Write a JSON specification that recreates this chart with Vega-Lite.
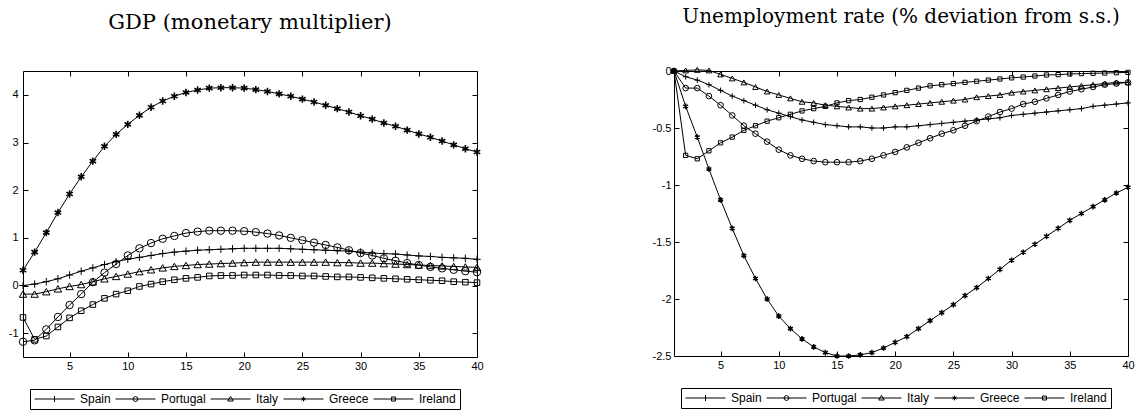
{
 "$schema": "https://vega.github.io/schema/vega-lite/v6.json",
 "padding": {"left": 7, "top": 6, "right": 2, "bottom": 0},
 "bounds": "flush",
 "spacing": 197,
 "config": {
  "view": {"stroke": "black", "strokeWidth": 1},
  "axis": {"grid": false, "domain": false, "tickColor": "black", "tickSize": -5, "tickWidth": 1, "labelFont": "Liberation Sans", "labelFontSize": 11, "labelColor": "black", "labelFlush": false, "labelOverlap": false},
  "title": {"font": "DejaVu Serif", "fontSize": 20, "fontWeight": "normal", "color": "black", "anchor": "middle", "offset": 38},
  "legend": {"orient": "none", "direction": "horizontal", "columns": 5, "strokeColor": "black", "fillColor": "white", "padding": 4, "symbolSize": 1600, "clipHeight": 12, "labelOffset": 5, "columnPadding": 4, "labelFont": "Liberation Sans", "labelFontSize": 12, "labelColor": "black", "symbolStrokeColor": "black", "symbolFillColor": "transparent", "symbolStrokeWidth": 1, "symbolOpacity": 1}
 },
 "resolve": {"scale": {"shape": "independent"}, "legend": {"shape": "independent"}},
 "datasets": {
  "gdp": [
{"t":1,"c":"Spain","v":0.00},{"t":2,"c":"Spain","v":0.03},{"t":3,"c":"Spain","v":0.08},{"t":4,"c":"Spain","v":0.14},{"t":5,"c":"Spain","v":0.22},{"t":6,"c":"Spain","v":0.30},{"t":7,"c":"Spain","v":0.37},{"t":8,"c":"Spain","v":0.44},{"t":9,"c":"Spain","v":0.50},{"t":10,"c":"Spain","v":0.55},{"t":11,"c":"Spain","v":0.59},{"t":12,"c":"Spain","v":0.63},{"t":13,"c":"Spain","v":0.67},{"t":14,"c":"Spain","v":0.70},{"t":15,"c":"Spain","v":0.72},{"t":16,"c":"Spain","v":0.74},{"t":17,"c":"Spain","v":0.75},{"t":18,"c":"Spain","v":0.76},{"t":19,"c":"Spain","v":0.77},{"t":20,"c":"Spain","v":0.78},{"t":21,"c":"Spain","v":0.78},{"t":22,"c":"Spain","v":0.78},{"t":23,"c":"Spain","v":0.78},{"t":24,"c":"Spain","v":0.77},{"t":25,"c":"Spain","v":0.76},{"t":26,"c":"Spain","v":0.75},{"t":27,"c":"Spain","v":0.74},{"t":28,"c":"Spain","v":0.73},{"t":29,"c":"Spain","v":0.72},{"t":30,"c":"Spain","v":0.70},{"t":31,"c":"Spain","v":0.68},{"t":32,"c":"Spain","v":0.67},{"t":33,"c":"Spain","v":0.66},{"t":34,"c":"Spain","v":0.64},{"t":35,"c":"Spain","v":0.62},{"t":36,"c":"Spain","v":0.61},{"t":37,"c":"Spain","v":0.59},{"t":38,"c":"Spain","v":0.58},{"t":39,"c":"Spain","v":0.57},{"t":40,"c":"Spain","v":0.55},
{"t":1,"c":"Portugal","v":-1.18},{"t":2,"c":"Portugal","v":-1.15},{"t":3,"c":"Portugal","v":-0.92},{"t":4,"c":"Portugal","v":-0.66},{"t":5,"c":"Portugal","v":-0.41},{"t":6,"c":"Portugal","v":-0.18},{"t":7,"c":"Portugal","v":0.07},{"t":8,"c":"Portugal","v":0.27},{"t":9,"c":"Portugal","v":0.45},{"t":10,"c":"Portugal","v":0.63},{"t":11,"c":"Portugal","v":0.78},{"t":12,"c":"Portugal","v":0.89},{"t":13,"c":"Portugal","v":0.98},{"t":14,"c":"Portugal","v":1.04},{"t":15,"c":"Portugal","v":1.10},{"t":16,"c":"Portugal","v":1.13},{"t":17,"c":"Portugal","v":1.15},{"t":18,"c":"Portugal","v":1.15},{"t":19,"c":"Portugal","v":1.15},{"t":20,"c":"Portugal","v":1.14},{"t":21,"c":"Portugal","v":1.12},{"t":22,"c":"Portugal","v":1.09},{"t":23,"c":"Portugal","v":1.05},{"t":24,"c":"Portugal","v":1.00},{"t":25,"c":"Portugal","v":0.95},{"t":26,"c":"Portugal","v":0.90},{"t":27,"c":"Portugal","v":0.85},{"t":28,"c":"Portugal","v":0.80},{"t":29,"c":"Portugal","v":0.74},{"t":30,"c":"Portugal","v":0.68},{"t":31,"c":"Portugal","v":0.63},{"t":32,"c":"Portugal","v":0.57},{"t":33,"c":"Portugal","v":0.52},{"t":34,"c":"Portugal","v":0.47},{"t":35,"c":"Portugal","v":0.43},{"t":36,"c":"Portugal","v":0.39},{"t":37,"c":"Portugal","v":0.36},{"t":38,"c":"Portugal","v":0.33},{"t":39,"c":"Portugal","v":0.30},{"t":40,"c":"Portugal","v":0.28},
{"t":1,"c":"Italy","v":-0.18},{"t":2,"c":"Italy","v":-0.18},{"t":3,"c":"Italy","v":-0.13},{"t":4,"c":"Italy","v":-0.07},{"t":5,"c":"Italy","v":-0.02},{"t":6,"c":"Italy","v":0.02},{"t":7,"c":"Italy","v":0.08},{"t":8,"c":"Italy","v":0.14},{"t":9,"c":"Italy","v":0.19},{"t":10,"c":"Italy","v":0.24},{"t":11,"c":"Italy","v":0.29},{"t":12,"c":"Italy","v":0.33},{"t":13,"c":"Italy","v":0.37},{"t":14,"c":"Italy","v":0.40},{"t":15,"c":"Italy","v":0.42},{"t":16,"c":"Italy","v":0.44},{"t":17,"c":"Italy","v":0.45},{"t":18,"c":"Italy","v":0.46},{"t":19,"c":"Italy","v":0.47},{"t":20,"c":"Italy","v":0.48},{"t":21,"c":"Italy","v":0.49},{"t":22,"c":"Italy","v":0.49},{"t":23,"c":"Italy","v":0.49},{"t":24,"c":"Italy","v":0.49},{"t":25,"c":"Italy","v":0.49},{"t":26,"c":"Italy","v":0.49},{"t":27,"c":"Italy","v":0.49},{"t":28,"c":"Italy","v":0.48},{"t":29,"c":"Italy","v":0.48},{"t":30,"c":"Italy","v":0.47},{"t":31,"c":"Italy","v":0.47},{"t":32,"c":"Italy","v":0.46},{"t":33,"c":"Italy","v":0.45},{"t":34,"c":"Italy","v":0.44},{"t":35,"c":"Italy","v":0.43},{"t":36,"c":"Italy","v":0.42},{"t":37,"c":"Italy","v":0.41},{"t":38,"c":"Italy","v":0.40},{"t":39,"c":"Italy","v":0.39},{"t":40,"c":"Italy","v":0.38},
{"t":1,"c":"Greece","v":0.32},{"t":2,"c":"Greece","v":0.70},{"t":3,"c":"Greece","v":1.11},{"t":4,"c":"Greece","v":1.53},{"t":5,"c":"Greece","v":1.92},{"t":6,"c":"Greece","v":2.28},{"t":7,"c":"Greece","v":2.61},{"t":8,"c":"Greece","v":2.92},{"t":9,"c":"Greece","v":3.17},{"t":10,"c":"Greece","v":3.38},{"t":11,"c":"Greece","v":3.57},{"t":12,"c":"Greece","v":3.74},{"t":13,"c":"Greece","v":3.87},{"t":14,"c":"Greece","v":3.97},{"t":15,"c":"Greece","v":4.05},{"t":16,"c":"Greece","v":4.10},{"t":17,"c":"Greece","v":4.14},{"t":18,"c":"Greece","v":4.15},{"t":19,"c":"Greece","v":4.15},{"t":20,"c":"Greece","v":4.14},{"t":21,"c":"Greece","v":4.11},{"t":22,"c":"Greece","v":4.07},{"t":23,"c":"Greece","v":4.02},{"t":24,"c":"Greece","v":3.97},{"t":25,"c":"Greece","v":3.91},{"t":26,"c":"Greece","v":3.85},{"t":27,"c":"Greece","v":3.78},{"t":28,"c":"Greece","v":3.71},{"t":29,"c":"Greece","v":3.64},{"t":30,"c":"Greece","v":3.56},{"t":31,"c":"Greece","v":3.49},{"t":32,"c":"Greece","v":3.41},{"t":33,"c":"Greece","v":3.34},{"t":34,"c":"Greece","v":3.26},{"t":35,"c":"Greece","v":3.18},{"t":36,"c":"Greece","v":3.11},{"t":37,"c":"Greece","v":3.03},{"t":38,"c":"Greece","v":2.95},{"t":39,"c":"Greece","v":2.87},{"t":40,"c":"Greece","v":2.80},
{"t":1,"c":"Ireland","v":-0.67},{"t":2,"c":"Ireland","v":-1.13},{"t":3,"c":"Ireland","v":-1.06},{"t":4,"c":"Ireland","v":-0.87},{"t":5,"c":"Ireland","v":-0.68},{"t":6,"c":"Ireland","v":-0.53},{"t":7,"c":"Ireland","v":-0.40},{"t":8,"c":"Ireland","v":-0.27},{"t":9,"c":"Ireland","v":-0.18},{"t":10,"c":"Ireland","v":-0.11},{"t":11,"c":"Ireland","v":-0.02},{"t":12,"c":"Ireland","v":0.03},{"t":13,"c":"Ireland","v":0.08},{"t":14,"c":"Ireland","v":0.12},{"t":15,"c":"Ireland","v":0.15},{"t":16,"c":"Ireland","v":0.17},{"t":17,"c":"Ireland","v":0.20},{"t":18,"c":"Ireland","v":0.21},{"t":19,"c":"Ireland","v":0.21},{"t":20,"c":"Ireland","v":0.22},{"t":21,"c":"Ireland","v":0.22},{"t":22,"c":"Ireland","v":0.22},{"t":23,"c":"Ireland","v":0.21},{"t":24,"c":"Ireland","v":0.21},{"t":25,"c":"Ireland","v":0.20},{"t":26,"c":"Ireland","v":0.20},{"t":27,"c":"Ireland","v":0.19},{"t":28,"c":"Ireland","v":0.18},{"t":29,"c":"Ireland","v":0.18},{"t":30,"c":"Ireland","v":0.17},{"t":31,"c":"Ireland","v":0.16},{"t":32,"c":"Ireland","v":0.15},{"t":33,"c":"Ireland","v":0.14},{"t":34,"c":"Ireland","v":0.13},{"t":35,"c":"Ireland","v":0.12},{"t":36,"c":"Ireland","v":0.11},{"t":37,"c":"Ireland","v":0.10},{"t":38,"c":"Ireland","v":0.08},{"t":39,"c":"Ireland","v":0.07},{"t":40,"c":"Ireland","v":0.06}
  ],
  "un": [
{"t":1,"c":"Spain","v":0},{"t":2,"c":"Spain","v":-0.05},{"t":3,"c":"Spain","v":-0.08},{"t":4,"c":"Spain","v":-0.12},{"t":5,"c":"Spain","v":-0.17},{"t":6,"c":"Spain","v":-0.22},{"t":7,"c":"Spain","v":-0.26},{"t":8,"c":"Spain","v":-0.30},{"t":9,"c":"Spain","v":-0.34},{"t":10,"c":"Spain","v":-0.37},{"t":11,"c":"Spain","v":-0.40},{"t":12,"c":"Spain","v":-0.43},{"t":13,"c":"Spain","v":-0.45},{"t":14,"c":"Spain","v":-0.47},{"t":15,"c":"Spain","v":-0.48},{"t":16,"c":"Spain","v":-0.49},{"t":17,"c":"Spain","v":-0.49},{"t":18,"c":"Spain","v":-0.50},{"t":19,"c":"Spain","v":-0.50},{"t":20,"c":"Spain","v":-0.49},{"t":21,"c":"Spain","v":-0.49},{"t":22,"c":"Spain","v":-0.48},{"t":23,"c":"Spain","v":-0.47},{"t":24,"c":"Spain","v":-0.46},{"t":25,"c":"Spain","v":-0.45},{"t":26,"c":"Spain","v":-0.44},{"t":27,"c":"Spain","v":-0.43},{"t":28,"c":"Spain","v":-0.42},{"t":29,"c":"Spain","v":-0.41},{"t":30,"c":"Spain","v":-0.39},{"t":31,"c":"Spain","v":-0.38},{"t":32,"c":"Spain","v":-0.37},{"t":33,"c":"Spain","v":-0.36},{"t":34,"c":"Spain","v":-0.35},{"t":35,"c":"Spain","v":-0.34},{"t":36,"c":"Spain","v":-0.33},{"t":37,"c":"Spain","v":-0.31},{"t":38,"c":"Spain","v":-0.30},{"t":39,"c":"Spain","v":-0.29},{"t":40,"c":"Spain","v":-0.28},
{"t":1,"c":"Portugal","v":0},{"t":2,"c":"Portugal","v":-0.15},{"t":3,"c":"Portugal","v":-0.15},{"t":4,"c":"Portugal","v":-0.22},{"t":5,"c":"Portugal","v":-0.30},{"t":6,"c":"Portugal","v":-0.39},{"t":7,"c":"Portugal","v":-0.48},{"t":8,"c":"Portugal","v":-0.55},{"t":9,"c":"Portugal","v":-0.62},{"t":10,"c":"Portugal","v":-0.69},{"t":11,"c":"Portugal","v":-0.74},{"t":12,"c":"Portugal","v":-0.77},{"t":13,"c":"Portugal","v":-0.79},{"t":14,"c":"Portugal","v":-0.80},{"t":15,"c":"Portugal","v":-0.80},{"t":16,"c":"Portugal","v":-0.80},{"t":17,"c":"Portugal","v":-0.79},{"t":18,"c":"Portugal","v":-0.77},{"t":19,"c":"Portugal","v":-0.74},{"t":20,"c":"Portugal","v":-0.71},{"t":21,"c":"Portugal","v":-0.67},{"t":22,"c":"Portugal","v":-0.63},{"t":23,"c":"Portugal","v":-0.59},{"t":24,"c":"Portugal","v":-0.55},{"t":25,"c":"Portugal","v":-0.52},{"t":26,"c":"Portugal","v":-0.48},{"t":27,"c":"Portugal","v":-0.44},{"t":28,"c":"Portugal","v":-0.40},{"t":29,"c":"Portugal","v":-0.36},{"t":30,"c":"Portugal","v":-0.33},{"t":31,"c":"Portugal","v":-0.29},{"t":32,"c":"Portugal","v":-0.27},{"t":33,"c":"Portugal","v":-0.24},{"t":34,"c":"Portugal","v":-0.21},{"t":35,"c":"Portugal","v":-0.18},{"t":36,"c":"Portugal","v":-0.16},{"t":37,"c":"Portugal","v":-0.14},{"t":38,"c":"Portugal","v":-0.12},{"t":39,"c":"Portugal","v":-0.11},{"t":40,"c":"Portugal","v":-0.10},
{"t":1,"c":"Italy","v":0},{"t":2,"c":"Italy","v":0.005},{"t":3,"c":"Italy","v":0.01},{"t":4,"c":"Italy","v":0.005},{"t":5,"c":"Italy","v":-0.03},{"t":6,"c":"Italy","v":-0.065},{"t":7,"c":"Italy","v":-0.10},{"t":8,"c":"Italy","v":-0.14},{"t":9,"c":"Italy","v":-0.18},{"t":10,"c":"Italy","v":-0.21},{"t":11,"c":"Italy","v":-0.24},{"t":12,"c":"Italy","v":-0.27},{"t":13,"c":"Italy","v":-0.28},{"t":14,"c":"Italy","v":-0.30},{"t":15,"c":"Italy","v":-0.31},{"t":16,"c":"Italy","v":-0.32},{"t":17,"c":"Italy","v":-0.33},{"t":18,"c":"Italy","v":-0.33},{"t":19,"c":"Italy","v":-0.32},{"t":20,"c":"Italy","v":-0.31},{"t":21,"c":"Italy","v":-0.30},{"t":22,"c":"Italy","v":-0.29},{"t":23,"c":"Italy","v":-0.28},{"t":24,"c":"Italy","v":-0.27},{"t":25,"c":"Italy","v":-0.26},{"t":26,"c":"Italy","v":-0.25},{"t":27,"c":"Italy","v":-0.23},{"t":28,"c":"Italy","v":-0.22},{"t":29,"c":"Italy","v":-0.21},{"t":30,"c":"Italy","v":-0.19},{"t":31,"c":"Italy","v":-0.18},{"t":32,"c":"Italy","v":-0.17},{"t":33,"c":"Italy","v":-0.16},{"t":34,"c":"Italy","v":-0.15},{"t":35,"c":"Italy","v":-0.14},{"t":36,"c":"Italy","v":-0.13},{"t":37,"c":"Italy","v":-0.12},{"t":38,"c":"Italy","v":-0.11},{"t":39,"c":"Italy","v":-0.10},{"t":40,"c":"Italy","v":-0.10},
{"t":1,"c":"Greece","v":0},{"t":2,"c":"Greece","v":-0.31},{"t":3,"c":"Greece","v":-0.58},{"t":4,"c":"Greece","v":-0.86},{"t":5,"c":"Greece","v":-1.13},{"t":6,"c":"Greece","v":-1.38},{"t":7,"c":"Greece","v":-1.62},{"t":8,"c":"Greece","v":-1.82},{"t":9,"c":"Greece","v":-2.00},{"t":10,"c":"Greece","v":-2.15},{"t":11,"c":"Greece","v":-2.26},{"t":12,"c":"Greece","v":-2.35},{"t":13,"c":"Greece","v":-2.42},{"t":14,"c":"Greece","v":-2.47},{"t":15,"c":"Greece","v":-2.50},{"t":16,"c":"Greece","v":-2.50},{"t":17,"c":"Greece","v":-2.49},{"t":18,"c":"Greece","v":-2.47},{"t":19,"c":"Greece","v":-2.43},{"t":20,"c":"Greece","v":-2.38},{"t":21,"c":"Greece","v":-2.33},{"t":22,"c":"Greece","v":-2.26},{"t":23,"c":"Greece","v":-2.19},{"t":24,"c":"Greece","v":-2.12},{"t":25,"c":"Greece","v":-2.05},{"t":26,"c":"Greece","v":-1.97},{"t":27,"c":"Greece","v":-1.90},{"t":28,"c":"Greece","v":-1.82},{"t":29,"c":"Greece","v":-1.74},{"t":30,"c":"Greece","v":-1.66},{"t":31,"c":"Greece","v":-1.59},{"t":32,"c":"Greece","v":-1.52},{"t":33,"c":"Greece","v":-1.45},{"t":34,"c":"Greece","v":-1.38},{"t":35,"c":"Greece","v":-1.31},{"t":36,"c":"Greece","v":-1.25},{"t":37,"c":"Greece","v":-1.19},{"t":38,"c":"Greece","v":-1.13},{"t":39,"c":"Greece","v":-1.07},{"t":40,"c":"Greece","v":-1.02},
{"t":1,"c":"Ireland","v":0},{"t":2,"c":"Ireland","v":-0.74},{"t":3,"c":"Ireland","v":-0.77},{"t":4,"c":"Ireland","v":-0.70},{"t":5,"c":"Ireland","v":-0.63},{"t":6,"c":"Ireland","v":-0.58},{"t":7,"c":"Ireland","v":-0.52},{"t":8,"c":"Ireland","v":-0.48},{"t":9,"c":"Ireland","v":-0.44},{"t":10,"c":"Ireland","v":-0.41},{"t":11,"c":"Ireland","v":-0.38},{"t":12,"c":"Ireland","v":-0.35},{"t":13,"c":"Ireland","v":-0.33},{"t":14,"c":"Ireland","v":-0.31},{"t":15,"c":"Ireland","v":-0.28},{"t":16,"c":"Ireland","v":-0.26},{"t":17,"c":"Ireland","v":-0.25},{"t":18,"c":"Ireland","v":-0.23},{"t":19,"c":"Ireland","v":-0.21},{"t":20,"c":"Ireland","v":-0.19},{"t":21,"c":"Ireland","v":-0.17},{"t":22,"c":"Ireland","v":-0.15},{"t":23,"c":"Ireland","v":-0.13},{"t":24,"c":"Ireland","v":-0.12},{"t":25,"c":"Ireland","v":-0.11},{"t":26,"c":"Ireland","v":-0.10},{"t":27,"c":"Ireland","v":-0.09},{"t":28,"c":"Ireland","v":-0.08},{"t":29,"c":"Ireland","v":-0.07},{"t":30,"c":"Ireland","v":-0.06},{"t":31,"c":"Ireland","v":-0.053},{"t":32,"c":"Ireland","v":-0.044},{"t":33,"c":"Ireland","v":-0.035},{"t":34,"c":"Ireland","v":-0.032},{"t":35,"c":"Ireland","v":-0.026},{"t":36,"c":"Ireland","v":-0.023},{"t":37,"c":"Ireland","v":-0.02},{"t":38,"c":"Ireland","v":-0.018},{"t":39,"c":"Ireland","v":-0.015},{"t":40,"c":"Ireland","v":-0.012}
  ]
 },
 "hconcat": [
  {
   "width": 454, "height": 286,
   "title": {"text": "GDP (monetary multiplier)", "fontSize": 21},
   "data": {"name": "gdp"},
   "resolve": {"scale": {"shape": "independent"}, "legend": {"shape": "independent"}},
   "layer": [
    {
     "mark": {"type": "line", "color": "black", "strokeWidth": 1},
     "encoding": {
      "x": {"field": "t", "type": "quantitative", "scale": {"domain": [1, 40], "nice": false, "zero": false}, "axis": {"orient": "bottom", "title": null, "values": [5,10,15,20,25,30,35,40], "labelPadding": 8}},
      "y": {"field": "v", "type": "quantitative", "scale": {"domain": [-1.5, 4.5], "nice": false, "zero": false}, "axis": {"orient": "left", "title": null, "values": [-1,0,1,2,3,4], "labelPadding": 10, "labelExpr": "toString(datum.value)"}},
      "detail": {"field": "c", "type": "nominal"}
     }
    },
    {
     "mark": {"type": "point", "filled": false, "color": "black", "opacity": 1, "size": 55},
     "encoding": {
      "x": {"field": "t", "type": "quantitative", "axis": {"orient": "top", "title": null, "labels": false, "values": [5,10,15,20,25,30,35,40]}},
      "y": {"field": "v", "type": "quantitative", "axis": {"orient": "right", "title": null, "labels": false, "values": [-1,0,1,2,3,4]}},
      "strokeWidth": {"condition": {"test": "datum.c === 'Greece'", "value": 1.6}, "value": 1},
      "shape": {"field": "c", "type": "nominal", "legend": null,
       "scale": {"domain": ["Spain","Portugal","Italy","Greece","Ireland"], "range": ["M-1,0H1M0,-1V1", "circle", "triangle-up", "M0,-1V1M-0.87,-0.5L0.87,0.5M-0.87,0.5L0.87,-0.5", "M-0.75,-0.75H0.75V0.75H-0.75Z"]}}
     }
    },
    {
     "transform": [{"filter": "false"}],
     "mark": {"type": "point", "filled": false, "color": "black", "opacity": 0, "size": 1600},
     "encoding": {
      "x": {"field": "t", "type": "quantitative", "axis": null},
      "y": {"field": "v", "type": "quantitative", "axis": null},
      "shape": {"field": "c", "type": "nominal",
       "scale": {"domain": ["Spain","Portugal","Italy","Greece","Ireland"], "range": ["M-1,0H1M0,-0.15V0.15", "M-1,0H1M0.125,0L0.088,0.088L0,0.125L-0.088,0.088L-0.125,0L-0.088,-0.088L0,-0.125L0.088,-0.088Z", "M-1,0H1M0,-0.13L0.14,0.1L-0.14,0.1Z", "M-1,0H1M0,-0.12V0.12M-0.1,-0.06L0.1,0.06M-0.1,0.06L0.1,-0.06", "M-1,0H1M-0.1,-0.1H0.1V0.1H-0.1Z"]},
       "legend": {"orient": "none", "legendX": 7, "legendY": 318, "title": null}}
     }
    }
   ]
  },
  {
   "width": 454, "height": 285,
   "title": {"text": "Unemployment rate (% deviation from s.s.)"},
   "data": {"name": "un"},
   "resolve": {"scale": {"shape": "independent"}, "legend": {"shape": "independent"}},
   "layer": [
    {
     "mark": {"type": "line", "color": "black", "strokeWidth": 1},
     "encoding": {
      "x": {"field": "t", "type": "quantitative", "scale": {"domain": [1, 40], "nice": false, "zero": false}, "axis": {"orient": "bottom", "title": null, "values": [5,10,15,20,25,30,35,40], "labelPadding": 8}},
      "y": {"field": "v", "type": "quantitative", "scale": {"domain": [-2.5, 0], "nice": false, "zero": false}, "axis": {"orient": "left", "title": null, "values": [-2.5,-2,-1.5,-1,-0.5,0], "labelPadding": 8, "labelExpr": "toString(datum.value)"}},
      "detail": {"field": "c", "type": "nominal"}
     }
    },
    {
     "mark": {"type": "point", "filled": false, "color": "black", "opacity": 1, "size": 32},
     "encoding": {
      "x": {"field": "t", "type": "quantitative", "axis": {"orient": "top", "title": null, "labels": false, "values": [5,10,15,20,25,30,35,40]}},
      "y": {"field": "v", "type": "quantitative", "axis": {"orient": "right", "title": null, "labels": false, "values": [-2.5,-2,-1.5,-1,-0.5,0]}},
      "strokeWidth": {"condition": {"test": "datum.c === 'Greece'", "value": 1.5}, "value": 1},
      "shape": {"field": "c", "type": "nominal", "legend": null,
       "scale": {"domain": ["Spain","Portugal","Italy","Greece","Ireland"], "range": ["M-1,0H1M0,-1V1", "circle", "triangle-up", "M0,-1V1M-0.87,-0.5L0.87,0.5M-0.87,0.5L0.87,-0.5", "M-0.75,-0.75H0.75V0.75H-0.75Z"]}}
     }
    },
    {
     "transform": [{"filter": "false"}],
     "mark": {"type": "point", "filled": false, "color": "black", "opacity": 0, "size": 1600},
     "encoding": {
      "x": {"field": "t", "type": "quantitative", "axis": null},
      "y": {"field": "v", "type": "quantitative", "axis": null},
      "shape": {"field": "c", "type": "nominal",
       "scale": {"domain": ["Spain","Portugal","Italy","Greece","Ireland"], "range": ["M-1,0H1M0,-0.15V0.15", "M-1,0H1M0.125,0L0.088,0.088L0,0.125L-0.088,0.088L-0.125,0L-0.088,-0.088L0,-0.125L0.088,-0.088Z", "M-1,0H1M0,-0.13L0.14,0.1L-0.14,0.1Z", "M-1,0H1M0,-0.12V0.12M-0.1,-0.06L0.1,0.06M-0.1,0.06L0.1,-0.06", "M-1,0H1M-0.1,-0.1H0.1V0.1H-0.1Z"]},
       "legend": {"orient": "none", "legendX": 7, "legendY": 317, "title": null}}
     }
    }
   ]
  }
 ]
}
